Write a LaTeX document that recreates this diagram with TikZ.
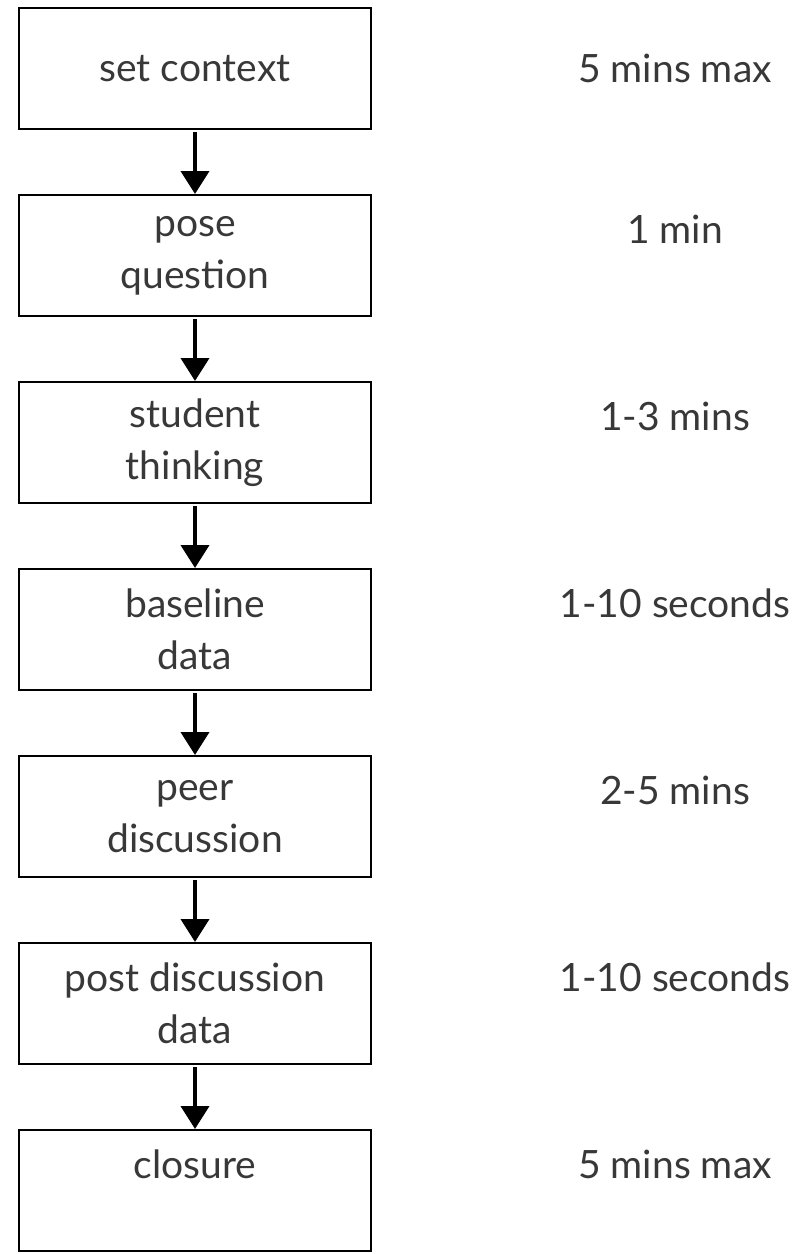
\documentclass[tikz,border=0pt]{standalone}
\usepackage{fontspec}
\setmainfont{Lato}
\usetikzlibrary{arrows.meta,positioning,calc}
\definecolor{ink}{HTML}{000000}
\definecolor{txt}{HTML}{383838}

\begin{document}
\begin{tikzpicture}[
  x=0.5pt, y=-0.5pt,
  node distance=32pt,
  stage/.style={draw=ink, line width=1pt, align=center, minimum width=176pt, minimum height=60.5pt, inner sep=0pt, font=\fontsize{19.5}{26}\selectfont, text=txt},
  timing/.style={align=center, inner sep=0pt, font=\fontsize{19.5}{26}\selectfont, text=txt},
  arr/.style={-{Triangle[length=11.5pt, width=14pt]}, line width=2pt, draw=ink, shorten <=1pt}
]
\useasboundingbox (0,0) rectangle (799,1254);
\node[stage] (context) at (195,68.5) {set context};
\node[stage, below=of context] (pose) {pose\\question};
\node[stage, below=of pose] (thinking) {student\\thinking};
\node[stage, below=of thinking] (baseline) {baseline\\data};
\node[stage, below=of baseline] (peer) {peer\\discussion};
\node[stage, below=of peer] (post) {post discussion\\data};
\node[stage, below=of post] (closure) {closure\\~};
\draw[arr] (context) -- (pose);
\draw[arr] (pose) -- (thinking);
\draw[arr] (thinking) -- (baseline);
\draw[arr] (baseline) -- (peer);
\draw[arr] (peer) -- (post);
\draw[arr] (post) -- (closure);
% time allowed for each stage
\node[timing] (tcontext) at ($(context.center)+(480,0)$) {5 mins max};
\node[timing] (tpose) at ($(pose.center)+(480,-26)$) {1 min};
\node[timing] (tthinking) at ($(thinking.center)+(480,-26)$) {1-3 mins};
\node[timing] (tbaseline) at ($(baseline.center)+(480,-26)$) {1-10 seconds};
\node[timing] (tpeer) at ($(peer.center)+(480,-26)$) {2-5 mins};
\node[timing] (tpost) at ($(post.center)+(480,-26)$) {1-10 seconds};
\node[timing] (tclosure) at ($(closure.center)+(480,-26)$) {5 mins max};
\end{tikzpicture}
\end{document}
